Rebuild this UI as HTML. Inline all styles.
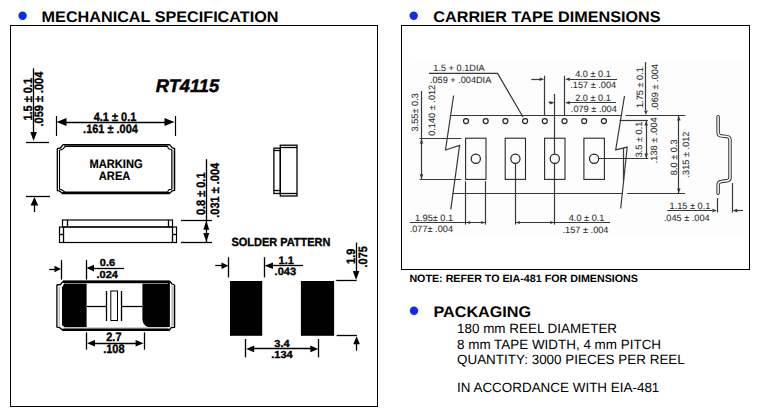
<!DOCTYPE html>
<html><head><meta charset="utf-8">
<style>
html,body{margin:0;padding:0;background:#fff;width:761px;height:413px;overflow:hidden}
svg{display:block}
text{font-family:"Liberation Sans",sans-serif}
</style></head><body>
<svg width="761" height="413" viewBox="0 0 761 413">
<circle cx="22.6" cy="15.8" r="4.2" fill="#0a2ef0"/>
<text transform="translate(41.6,21.8) skewX(0.05) scale(1.052,1)" text-anchor="start" style="font-size:15.4px;font-weight:bold;" fill="#000"  >MECHANICAL SPECIFICATION</text>
<circle cx="413.7" cy="15.8" r="4.2" fill="#0a2ef0"/>
<text transform="translate(433.3,21.8) skewX(0.05) scale(1.052,1)" text-anchor="start" style="font-size:15.4px;font-weight:bold;" fill="#000"  >CARRIER TAPE DIMENSIONS</text>
<rect x="10.5" y="25.5" width="367" height="381" fill="none" stroke="#000" stroke-width="1"/>
<rect x="401.5" y="25.5" width="348" height="244" fill="none" stroke="#000" stroke-width="1"/>
<text transform="translate(409.4,282.3) skewX(0.05) scale(1.01,1)" text-anchor="start" style="font-size:10.6px;font-weight:bold;" fill="#000"  >NOTE: REFER TO EIA-481 FOR DIMENSIONS</text>
<circle cx="414" cy="310.8" r="4.2" fill="#0a2ef0"/>
<text transform="translate(433.4,317.2) skewX(0.05) scale(1.052,1)" text-anchor="start" style="font-size:15.4px;font-weight:bold;" fill="#000"  >PACKAGING</text>
<text transform="translate(457.0,333.1) skewX(0.05)" text-anchor="start" style="font-size:13.45px;" fill="#000" >180 mm REEL DIAMETER</text>
<text transform="translate(457.0,349.0) skewX(0.05)" text-anchor="start" style="font-size:13.45px;" fill="#000" >8 mm TAPE WIDTH, 4 mm PITCH</text>
<text transform="translate(457.0,364.0) skewX(0.05)" text-anchor="start" style="font-size:13.45px;" fill="#000" >QUANTITY: 3000 PIECES PER REEL</text>
<text transform="translate(457.0,392.2) skewX(0.05)" text-anchor="start" style="font-size:13.45px;" fill="#000" >IN ACCORDANCE WITH EIA-481</text>
<text transform="translate(155.8,91.9) skewX(0.05)" text-anchor="start" style="font-size:18.3px;font-weight:bold;font-style:italic;" fill="#000" stroke="#000" stroke-width="0.5">RT4115</text>
<line x1="33.5" y1="68.3" x2="33.5" y2="134" stroke="#000" stroke-width="1.3"/>
<polygon points="33.60,141.00 30.30,132.00 36.90,132.00" fill="#000"/>
<line x1="26" y1="142.5" x2="49" y2="142.5" stroke="#000" stroke-width="1.3"/>
<text transform="translate(32,99.3) rotate(-90) skewX(0.05) scale(0.9,1)" text-anchor="middle" style="font-size:12.2px;font-weight:bold;" fill="#000" stroke="#000" stroke-width="0.35">1.5 ± 0.1</text>
<text transform="translate(43,99.1) rotate(-90) skewX(0.05) scale(0.9,1)" text-anchor="middle" style="font-size:12.2px;font-weight:bold;" fill="#000" stroke="#000" stroke-width="0.35">.059 ± .004</text>
<line x1="26" y1="196.5" x2="50" y2="196.5" stroke="#000" stroke-width="1.3"/>
<line x1="34.5" y1="203" x2="34.5" y2="212" stroke="#000" stroke-width="1.3"/>
<polygon points="34.40,197.00 30.60,205.50 38.20,205.50" fill="#000"/>
<line x1="56.5" y1="116" x2="56.5" y2="136" stroke="#000" stroke-width="1.2"/>
<line x1="175.5" y1="116" x2="175.5" y2="136" stroke="#000" stroke-width="1.2"/>
<line x1="64" y1="122.5" x2="167" y2="122.5" stroke="#000" stroke-width="1.3"/>
<polygon points="56.50,122.10 66.50,118.10 66.50,126.10" fill="#000"/>
<polygon points="174.50,122.10 164.50,118.10 164.50,126.10" fill="#000"/>
<text transform="translate(115,120.7) skewX(0.05) scale(0.9,1)" text-anchor="middle" style="font-size:12.2px;font-weight:bold;" fill="#000" stroke="#000" stroke-width="0.35">4.1 ± 0.1</text>
<text transform="translate(110.5,132.6) skewX(0.05) scale(0.9,1)" text-anchor="middle" style="font-size:12.2px;font-weight:bold;" fill="#000" stroke="#000" stroke-width="0.35">.161 ± .004</text>
<rect x="172.2" y="149.7" width="2.2" height="39.8" fill="#bdbdbd"/>
<rect x="64" y="144.8" width="104.5" height="1.6" fill="#6a6a6a"/>
<path d="M63.1,144.6 L169.6,144.6 L172,147.6 L174.6,148.6 L174.6,190.4 L172.3,190.8 L169.6,193.4 L62.4,193.4 L59.7,191 L57.3,190.6 L57.3,148.7 L60.5,148 Z" fill="none" stroke="#000" stroke-width="1.3" stroke-linejoin="round"/>
<path d="M65.3,146.4 L167.4,146.4 L168.6,148.8 L171.8,149.7 L171.8,189.2 L169.1,189.6 L167.4,192 L64.8,192 L61.7,189.8 L59.5,189.2 L59.5,150.2 L62.5,149.3 Z" fill="none" stroke="#000" stroke-width="1.1" stroke-linejoin="round"/>
<line x1="62.4" y1="193.2" x2="169.6" y2="193.2" stroke="#000" stroke-width="2.2"/>
<text transform="translate(116,168.4) skewX(0.05) scale(0.9,1)" text-anchor="middle" style="font-size:12.4px;font-weight:bold;" fill="#000" stroke="#000" stroke-width="0.15">MARKING</text>
<text transform="translate(114.6,179.6) skewX(0.05) scale(0.9,1)" text-anchor="middle" style="font-size:12.4px;font-weight:bold;" fill="#000" stroke="#000" stroke-width="0.15">AREA</text>
<rect x="62.5" y="220" width="110" height="7" fill="none" stroke="#000" stroke-width="1.2"/>
<line x1="67.5" y1="220" x2="67.5" y2="227" stroke="#000" stroke-width="1.3"/>
<line x1="168.5" y1="220" x2="168.5" y2="227" stroke="#000" stroke-width="1.3"/>
<rect x="59.5" y="227" width="117" height="15.5" fill="none" stroke="#000" stroke-width="1.2"/>
<line x1="63.5" y1="227" x2="63.5" y2="242.5" stroke="#000" stroke-width="1.3"/>
<line x1="172.5" y1="227" x2="172.5" y2="242.5" stroke="#000" stroke-width="1.3"/>
<line x1="59.5" y1="234.5" x2="63" y2="234.5" stroke="#000" stroke-width="1.3"/>
<line x1="172.5" y1="234.5" x2="176.5" y2="234.5" stroke="#000" stroke-width="1.3"/>
<line x1="181" y1="220.5" x2="212" y2="220.5" stroke="#000" stroke-width="1.3"/>
<line x1="181" y1="242.5" x2="212" y2="242.5" stroke="#000" stroke-width="1.3"/>
<line x1="206.5" y1="159.2" x2="206.5" y2="242.4" stroke="#000" stroke-width="1.3"/>
<polygon points="206.30,220.70 203.30,229.70 209.30,229.70" fill="#000"/>
<polygon points="206.30,241.90 203.30,232.90 209.30,232.90" fill="#000"/>
<text transform="translate(205.4,193.8) rotate(-90) skewX(0.05) scale(0.9,1)" text-anchor="middle" style="font-size:12.2px;font-weight:bold;" fill="#000" stroke="#000" stroke-width="0.35">0.8 ± 0.1</text>
<text transform="translate(218.9,190.3) rotate(-90) skewX(0.05) scale(0.9,1)" text-anchor="middle" style="font-size:12.2px;font-weight:bold;" fill="#000" stroke="#000" stroke-width="0.35">.031 ± .004</text>
<rect x="280.3" y="145.2" width="16.7" height="50.8" fill="none" stroke="#000" stroke-width="1.3"/>
<line x1="280.3" y1="147.5" x2="297" y2="147.5" stroke="#000" stroke-width="1.3"/>
<line x1="280.3" y1="193.5" x2="297" y2="193.5" stroke="#000" stroke-width="1.3"/>
<rect x="273.9" y="148.2" width="6.4" height="45.3" fill="none" stroke="#000" stroke-width="1.3"/>
<line x1="273.9" y1="150.5" x2="280.3" y2="150.5" stroke="#000" stroke-width="1.3"/>
<line x1="273.9" y1="190.5" x2="280.3" y2="190.5" stroke="#000" stroke-width="1.3"/>
<path d="M62,287.5 L64.5,283 L86.6,283 L86.6,327.2 L64.5,327.2 L62,325 Z" fill="#000"/>
<path d="M142.4,283 L169.9,283 L169.9,327 L148,327 Q143,325.5 142.4,319.4 Z" fill="#000"/>
<rect x="171.4" y="285.5" width="2.4" height="41.5" fill="#bdbdbd"/>
<path d="M63.1,281.4 L169.9,281.4 L172,284 L174.6,285 L174.6,327.3 L171.2,327.6 L169.4,330 L62.4,330 L59.5,327.5 L56.9,327.1 L56.9,285 L60.5,284.5 Z" fill="none" stroke="#000" stroke-width="1.3" stroke-linejoin="round"/>
<path d="M59.2,287 L59.2,326" stroke="#9a9a9a" stroke-width="0.9"/>
<path d="M64.5,283.3 L86.6,283.3 M142.4,283.3 L168,283.3" stroke="#8a8a8a" stroke-width="1.6"/>
<path d="M86.6,283.5 L142.4,283.5" stroke="#c8c8c8" stroke-width="1"/>
<path d="M64.8,327.9 L167.5,327.9" stroke="#c0c0c0" stroke-width="1.1"/>
<line x1="63.1" y1="281.75" x2="169.9" y2="281.75" stroke="#000" stroke-width="2.3"/>
<line x1="62.4" y1="329.75" x2="169.4" y2="329.75" stroke="#000" stroke-width="2.4"/>
<line x1="86.8" y1="306.5" x2="106.6" y2="306.5" stroke="#000" stroke-width="1.3"/>
<line x1="121.4" y1="306.5" x2="142" y2="306.5" stroke="#000" stroke-width="1.3"/>
<line x1="106.5" y1="291" x2="106.5" y2="321" stroke="#000" stroke-width="1.3"/>
<line x1="121.5" y1="291" x2="121.5" y2="321" stroke="#000" stroke-width="1.3"/>
<rect x="110.8" y="291" width="6.7" height="29.5" fill="none" stroke="#000" stroke-width="1"/>
<line x1="61.5" y1="259.9" x2="61.5" y2="279.6" stroke="#000" stroke-width="1.3"/>
<line x1="86.5" y1="259.9" x2="86.5" y2="279.6" stroke="#000" stroke-width="1.3"/>
<line x1="49.2" y1="269.5" x2="55" y2="269.5" stroke="#000" stroke-width="1.3"/>
<polygon points="61.00,269.00 54.50,265.70 54.50,272.30" fill="#000"/>
<line x1="93" y1="268.5" x2="124.1" y2="268.5" stroke="#000" stroke-width="1.3"/>
<polygon points="86.50,268.10 94.00,264.80 94.00,271.40" fill="#000"/>
<text transform="translate(107.5,266.4) skewX(0.05) scale(1.08,1)" text-anchor="middle" style="font-size:10.2px;font-weight:bold;" fill="#000" stroke="#000" stroke-width="0.35">0.6</text>
<text transform="translate(107.2,278.3) skewX(0.05) scale(1.08,1)" text-anchor="middle" style="font-size:10.2px;font-weight:bold;" fill="#000" stroke="#000" stroke-width="0.35">.024</text>
<line x1="86.5" y1="332.4" x2="86.5" y2="349.7" stroke="#000" stroke-width="1.3"/>
<line x1="144.5" y1="332.4" x2="144.5" y2="349.7" stroke="#000" stroke-width="1.3"/>
<line x1="94" y1="343.5" x2="137" y2="343.5" stroke="#000" stroke-width="1.3"/>
<polygon points="87.00,343.20 95.00,339.90 95.00,346.50" fill="#000"/>
<polygon points="143.60,343.20 135.60,339.90 135.60,346.50" fill="#000"/>
<text transform="translate(113.9,341.4) skewX(0.05) scale(0.9,1)" text-anchor="middle" style="font-size:12.2px;font-weight:bold;" fill="#000" stroke="#000" stroke-width="0.35">2.7</text>
<text transform="translate(113.9,353.3) skewX(0.05) scale(0.9,1)" text-anchor="middle" style="font-size:12.2px;font-weight:bold;" fill="#000" stroke="#000" stroke-width="0.35">.108</text>
<text transform="translate(280.9,246) skewX(0.05) scale(0.93,1)" text-anchor="middle" style="font-size:11.8px;font-weight:bold;" fill="#000" stroke="#000" stroke-width="0.35">SOLDER PATTERN</text>
<rect x="230" y="281" width="32.2" height="54.8" fill="#000"/>
<rect x="300.9" y="281" width="33.2" height="54.8" fill="#000"/>
<line x1="228.5" y1="257.2" x2="228.5" y2="277.4" stroke="#000" stroke-width="1.3"/>
<line x1="264.5" y1="257.2" x2="264.5" y2="277.4" stroke="#000" stroke-width="1.3"/>
<line x1="215.3" y1="265.5" x2="223" y2="265.5" stroke="#000" stroke-width="1.3"/>
<polygon points="228.50,265.70 221.50,262.40 221.50,269.00" fill="#000"/>
<line x1="272" y1="265.5" x2="303" y2="265.5" stroke="#000" stroke-width="1.3"/>
<polygon points="264.50,265.70 273.00,262.40 273.00,269.00" fill="#000"/>
<text transform="translate(286.2,264.2) skewX(0.05)" text-anchor="middle" style="font-size:11px;font-weight:bold;" fill="#000" stroke="#000" stroke-width="0.35">1.1</text>
<text transform="translate(285.3,274.7) skewX(0.05) scale(1.04,1)" text-anchor="middle" style="font-size:10.6px;font-weight:bold;" fill="#000" stroke="#000" stroke-width="0.35">.043</text>
<line x1="356.5" y1="242.5" x2="356.5" y2="272" stroke="#000" stroke-width="1.3"/>
<polygon points="356.10,280.00 352.80,271.00 359.40,271.00" fill="#000"/>
<line x1="336.2" y1="280.5" x2="356.6" y2="280.5" stroke="#000" stroke-width="1.3"/>
<text transform="translate(354.7,256.3) rotate(-90) skewX(0.05) scale(0.9,1)" text-anchor="middle" style="font-size:12.2px;font-weight:bold;" fill="#000" stroke="#000" stroke-width="0.35">1.9</text>
<text transform="translate(366.6,256.8) rotate(-90) skewX(0.05) scale(0.9,1)" text-anchor="middle" style="font-size:12.2px;font-weight:bold;" fill="#000" stroke="#000" stroke-width="0.35">.075</text>
<line x1="336.6" y1="335.5" x2="356.9" y2="335.5" stroke="#000" stroke-width="1.3"/>
<line x1="356.5" y1="344" x2="356.5" y2="350.7" stroke="#000" stroke-width="1.3"/>
<polygon points="356.60,336.30 353.30,344.30 359.90,344.30" fill="#000"/>
<line x1="245.5" y1="339" x2="245.5" y2="357.3" stroke="#000" stroke-width="1.3"/>
<line x1="318.5" y1="339" x2="318.5" y2="357.3" stroke="#000" stroke-width="1.3"/>
<line x1="253" y1="348.5" x2="311" y2="348.5" stroke="#000" stroke-width="1.3"/>
<polygon points="246.20,348.90 254.20,345.60 254.20,352.20" fill="#000"/>
<polygon points="318.30,348.90 310.30,345.60 310.30,352.20" fill="#000"/>
<text transform="translate(282,346.8) skewX(0.05) scale(1.08,1)" text-anchor="middle" style="font-size:10.2px;font-weight:bold;" fill="#000" stroke="#000" stroke-width="0.35">3.4</text>
<text transform="translate(282,357.6) skewX(0.05) scale(1.08,1)" text-anchor="middle" style="font-size:10.2px;font-weight:bold;" fill="#000" stroke="#000" stroke-width="0.35">.134</text>
<rect x="409.3" y="62.2" width="333.7" height="171.7" fill="#fdfdfd"/>
<text transform="translate(433.3,71) skewX(0.05)" text-anchor="start" style="font-size:9.2px;" fill="#2e2e2e" stroke="#2e2e2e" stroke-width="0.08">1.5 + 0.1DIA</text>
<text transform="translate(430,82.6) skewX(0.05)" text-anchor="start" style="font-size:9.15px;" fill="#2e2e2e" stroke="#2e2e2e" stroke-width="0.08">.059 + .004DIA</text>
<polyline points="428.9,73.4 497.6,73.4 523,117" fill="none" stroke="#383838" stroke-width="1.2"/>
<line x1="451" y1="115.5" x2="621" y2="115.5" stroke="#383838" stroke-width="1.2"/>
<line x1="625.5" y1="115.5" x2="685.4" y2="115.5" stroke="#383838" stroke-width="1.2"/>
<circle cx="466.0" cy="121.1" r="2.5" fill="none" stroke="#222" stroke-width="1.2"/>
<circle cx="485.7" cy="121.1" r="2.5" fill="none" stroke="#222" stroke-width="1.2"/>
<circle cx="505.4" cy="121.1" r="2.5" fill="none" stroke="#222" stroke-width="1.2"/>
<circle cx="525.1" cy="121.1" r="2.5" fill="none" stroke="#222" stroke-width="1.2"/>
<circle cx="544.8" cy="121.1" r="2.5" fill="none" stroke="#222" stroke-width="1.2"/>
<circle cx="564.5" cy="121.1" r="2.5" fill="none" stroke="#222" stroke-width="1.2"/>
<circle cx="584.2" cy="121.1" r="2.5" fill="none" stroke="#222" stroke-width="1.2"/>
<circle cx="603.9" cy="121.1" r="2.5" fill="none" stroke="#222" stroke-width="1.2"/>
<rect x="465.6" y="138.2" width="20.4" height="41.2" fill="none" stroke="#282828" stroke-width="1.1"/>
<circle cx="475.8" cy="158.8" r="4.6" fill="none" stroke="#222" stroke-width="1.2"/>
<rect x="505.2" y="138.2" width="20.3" height="41.2" fill="none" stroke="#282828" stroke-width="1.1"/>
<circle cx="515.4" cy="158.8" r="4.6" fill="none" stroke="#222" stroke-width="1.2"/>
<rect x="544.6" y="138.2" width="20.4" height="41.2" fill="none" stroke="#282828" stroke-width="1.1"/>
<circle cx="554.8" cy="158.8" r="4.6" fill="none" stroke="#222" stroke-width="1.2"/>
<rect x="583.9" y="138.2" width="20.5" height="41.2" fill="none" stroke="#282828" stroke-width="1.1"/>
<circle cx="594.1" cy="158.8" r="4.6" fill="none" stroke="#222" stroke-width="1.2"/>
<line x1="623.5" y1="148" x2="623.5" y2="180" stroke="#383838" stroke-width="1.2"/>
<line x1="453" y1="193.5" x2="622.6" y2="193.5" stroke="#383838" stroke-width="1.2"/>
<line x1="627.2" y1="193.5" x2="685" y2="193.5" stroke="#383838" stroke-width="1.2"/>
<line x1="421.5" y1="91" x2="421.5" y2="179.3" stroke="#383838" stroke-width="1.2"/>
<line x1="419.6" y1="138.5" x2="461.4" y2="138.5" stroke="#383838" stroke-width="1.2"/>
<line x1="419.6" y1="179.5" x2="461.4" y2="179.5" stroke="#383838" stroke-width="1.2"/>
<polygon points="421.50,139.00 419.70,143.50 423.30,143.50" fill="#383838"/>
<polygon points="421.50,178.80 419.70,174.30 423.30,174.30" fill="#383838"/>
<text transform="translate(417.9,112.3) rotate(-90) skewX(0.05)" text-anchor="middle" style="font-size:9.2px;" fill="#2e2e2e" stroke="#2e2e2e" stroke-width="0.08">3.55± 0.3</text>
<text transform="translate(434.9,110.3) rotate(-90) skewX(0.05)" text-anchor="middle" style="font-size:9.2px;" fill="#2e2e2e" stroke="#2e2e2e" stroke-width="0.08">0.140 ± .012</text>
<polyline points="453.6,95.5 445.5,150 459.6,145.4 450.8,209.3" fill="none" stroke="#383838" stroke-width="1.2"/>
<polyline points="624.5,96 615.7,149.9 627.2,147.1 620.7,208.5" fill="none" stroke="#383838" stroke-width="1.2"/>
<line x1="544.5" y1="75.7" x2="544.5" y2="115.4" stroke="#383838" stroke-width="1.2"/>
<line x1="564.5" y1="75.7" x2="564.5" y2="115.4" stroke="#383838" stroke-width="1.2"/>
<line x1="531.3" y1="79.5" x2="540" y2="79.5" stroke="#383838" stroke-width="1.2"/>
<polygon points="544.20,79.20 539.70,77.40 539.70,81.00" fill="#383838"/>
<line x1="569" y1="79.5" x2="617.1" y2="79.5" stroke="#383838" stroke-width="1.2"/>
<polygon points="565.20,79.20 569.70,77.40 569.70,81.00" fill="#383838"/>
<text transform="translate(593,76.5) skewX(0.05)" text-anchor="middle" style="font-size:9.2px;" fill="#2e2e2e" stroke="#2e2e2e" stroke-width="0.08">4.0 ± 0.1</text>
<text transform="translate(593.2,87.6) skewX(0.05)" text-anchor="middle" style="font-size:9.2px;" fill="#2e2e2e" stroke="#2e2e2e" stroke-width="0.08">.157 ± .004</text>
<line x1="554.5" y1="93.9" x2="554.5" y2="154.2" stroke="#383838" stroke-width="1.2"/>
<line x1="548.6" y1="102.5" x2="551" y2="102.5" stroke="#383838" stroke-width="1.2"/>
<polygon points="554.40,102.80 549.90,101.00 549.90,104.60" fill="#383838"/>
<line x1="569" y1="102.5" x2="616" y2="102.5" stroke="#383838" stroke-width="1.2"/>
<polygon points="565.20,102.80 569.70,101.00 569.70,104.60" fill="#383838"/>
<text transform="translate(593,101.3) skewX(0.05)" text-anchor="middle" style="font-size:9.2px;" fill="#2e2e2e" stroke="#2e2e2e" stroke-width="0.08">2.0 ± 0.1</text>
<text transform="translate(593.8,112.3) skewX(0.05)" text-anchor="middle" style="font-size:9.2px;" fill="#2e2e2e" stroke="#2e2e2e" stroke-width="0.08">.079 ± .004</text>
<line x1="645.5" y1="62.1" x2="645.5" y2="110" stroke="#383838" stroke-width="1.2"/>
<polygon points="645.90,114.90 644.10,110.40 647.70,110.40" fill="#383838"/>
<text transform="translate(643.3,87.6) rotate(-90) skewX(0.05)" text-anchor="middle" style="font-size:9.2px;" fill="#2e2e2e" stroke="#2e2e2e" stroke-width="0.08">1.75 ± 0.1</text>
<text transform="translate(657.8,87) rotate(-90) skewX(0.05)" text-anchor="middle" style="font-size:9.2px;" fill="#2e2e2e" stroke="#2e2e2e" stroke-width="0.08">.069 ± .004</text>
<line x1="619.6" y1="120.5" x2="647.9" y2="120.5" stroke="#383838" stroke-width="1.2"/>
<line x1="598.4" y1="158.5" x2="648.4" y2="158.5" stroke="#383838" stroke-width="1.2"/>
<line x1="646.5" y1="121" x2="646.5" y2="158" stroke="#383838" stroke-width="1.2"/>
<polygon points="646.20,121.00 644.40,125.50 648.00,125.50" fill="#383838"/>
<polygon points="646.20,158.10 644.40,153.60 648.00,153.60" fill="#383838"/>
<text transform="translate(641.6,139.5) rotate(-90) skewX(0.05)" text-anchor="middle" style="font-size:9.2px;" fill="#2e2e2e" stroke="#2e2e2e" stroke-width="0.08">3.5 ± 0.1</text>
<text transform="translate(657.2,140.3) rotate(-90) skewX(0.05)" text-anchor="middle" style="font-size:9.2px;" fill="#2e2e2e" stroke="#2e2e2e" stroke-width="0.08">.138 ± .004</text>
<line x1="627.2" y1="193.5" x2="684.5" y2="193.5" stroke="#383838" stroke-width="1.2"/>
<line x1="678.5" y1="116" x2="678.5" y2="193" stroke="#383838" stroke-width="1.2"/>
<polygon points="678.80,115.90 677.00,120.40 680.60,120.40" fill="#383838"/>
<polygon points="678.80,192.90 677.00,188.40 680.60,188.40" fill="#383838"/>
<text transform="translate(676.8,157.3) rotate(-90) skewX(0.05)" text-anchor="middle" style="font-size:9.2px;" fill="#2e2e2e" stroke="#2e2e2e" stroke-width="0.08">8.0 ± 0.3</text>
<text transform="translate(688.6,154.5) rotate(-90) skewX(0.05)" text-anchor="middle" style="font-size:9.2px;" fill="#2e2e2e" stroke="#2e2e2e" stroke-width="0.08">.315 ± .012</text>
<path d="M718.1,116.6 L718.1,132.5 Q718.1,135.6 721.2,135.9 L727,136.6 Q730,137 730,140 L730,177.5 Q730,180.5 727,180.8 L721.2,181.5 Q718.1,181.8 718.1,185 L718.1,193.2" fill="none" stroke="#2a2a2a" stroke-width="3.4" stroke-linecap="round" stroke-linejoin="round"/>
<path d="M718.1,116.6 L718.1,132.5 Q718.1,135.6 721.2,135.9 L727,136.6 Q730,137 730,140 L730,177.5 Q730,180.5 727,180.8 L721.2,181.5 Q718.1,181.8 718.1,185 L718.1,193.2" fill="none" stroke="#fdfdfd" stroke-width="1.5" stroke-linecap="round" stroke-linejoin="round"/>
<line x1="717.5" y1="198.1" x2="717.5" y2="212.5" stroke="#383838" stroke-width="1.2"/>
<line x1="732.5" y1="183" x2="732.5" y2="212.5" stroke="#383838" stroke-width="1.2"/>
<line x1="667.2" y1="210.5" x2="712" y2="210.5" stroke="#383838" stroke-width="1.2"/>
<polygon points="716.90,210.60 712.40,208.80 712.40,212.40" fill="#383838"/>
<line x1="737" y1="210.5" x2="743" y2="210.5" stroke="#383838" stroke-width="1.2"/>
<polygon points="732.80,210.60 737.30,208.80 737.30,212.40" fill="#383838"/>
<text transform="translate(690,208.5) skewX(0.05)" text-anchor="middle" style="font-size:9.2px;" fill="#2e2e2e" stroke="#2e2e2e" stroke-width="0.08">1.15 ± 0.1</text>
<text transform="translate(686.7,220.6) skewX(0.05)" text-anchor="middle" style="font-size:9.2px;" fill="#2e2e2e" stroke="#2e2e2e" stroke-width="0.08">.045 ± .004</text>
<line x1="465.5" y1="181.3" x2="465.5" y2="224.6" stroke="#383838" stroke-width="1.2"/>
<line x1="485.5" y1="181.3" x2="485.5" y2="224.6" stroke="#383838" stroke-width="1.2"/>
<line x1="409.8" y1="222.5" x2="485.7" y2="222.5" stroke="#383838" stroke-width="1.2"/>
<polygon points="466.20,222.50 470.20,220.90 470.20,224.10" fill="#383838"/>
<polygon points="485.20,222.50 481.20,220.90 481.20,224.10" fill="#383838"/>
<text transform="translate(434,220.7) skewX(0.05)" text-anchor="middle" style="font-size:9.2px;" fill="#2e2e2e" stroke="#2e2e2e" stroke-width="0.08">1.95± 0.1</text>
<text transform="translate(431.3,232.2) skewX(0.05)" text-anchor="middle" style="font-size:9.2px;" fill="#2e2e2e" stroke="#2e2e2e" stroke-width="0.08">.077± .004</text>
<line x1="515.5" y1="163.4" x2="515.5" y2="224.6" stroke="#383838" stroke-width="1.2"/>
<line x1="554.5" y1="163.4" x2="554.5" y2="224.6" stroke="#383838" stroke-width="1.2"/>
<line x1="515.3" y1="222.5" x2="610" y2="222.5" stroke="#383838" stroke-width="1.2"/>
<polygon points="515.80,222.50 519.80,220.90 519.80,224.10" fill="#383838"/>
<polygon points="554.40,222.50 550.40,220.90 550.40,224.10" fill="#383838"/>
<text transform="translate(586.6,220.6) skewX(0.05)" text-anchor="middle" style="font-size:9.2px;" fill="#2e2e2e" stroke="#2e2e2e" stroke-width="0.08">4.0 ± 0.1</text>
<text transform="translate(585.5,233.4) skewX(0.05)" text-anchor="middle" style="font-size:9.2px;" fill="#2e2e2e" stroke="#2e2e2e" stroke-width="0.08">.157 ± .004</text>
</svg>
</body></html>
